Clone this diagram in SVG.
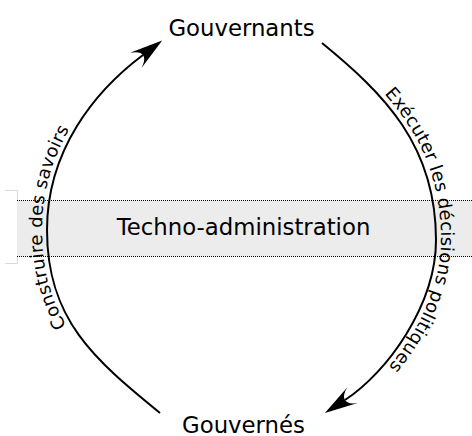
<svg xmlns="http://www.w3.org/2000/svg" xmlns:xlink="http://www.w3.org/1999/xlink" width="472" height="436" viewBox="0 0 472 436">
  <style>
    .lbl { font-family: "DejaVu Sans", "Liberation Sans", sans-serif; fill: #000; }
    .node { font-size: 22.8px; text-anchor: middle; }
    .edge-lbl { font-size: 18px; }
    .arc { fill: none; stroke: #000; stroke-width: 2; marker-end: url(#arrow); }
    .dots { fill: none; stroke: #000; stroke-width: 1; stroke-dasharray: 1 1; }
  </style>
  <defs>
    <marker id="arrow" markerUnits="userSpaceOnUse" orient="auto" refX="0" refY="0" markerWidth="40" markerHeight="30" overflow="visible">
      <path d="M24,0 L-9,-9.5 C3,-4 3,4 -9,9.5 Z" fill="#000"/>
    </marker>
  </defs>

  <g id="band">
    <polyline points="5,190.5 17.5,190.5 17.5,263.5 5,263.5" fill="none" stroke="#d9d9d9" stroke-width="1"/>
    <rect x="17" y="200.5" width="455" height="56" fill="#ececec"/>
    <line class="dots" x1="17" y1="200.5" x2="472" y2="200.5"/>
    <line class="dots" x1="17" y1="256.5" x2="472" y2="256.5"/>
    <text class="lbl node" x="243.5" y="235">Techno-administration</text>
  </g>

  <g id="gouvernants">
    <text class="lbl node" x="241.5" y="36">Gouvernants</text>
  </g>

  <g id="gouvernes">
    <text class="lbl node" x="243.5" y="432.5">Gouvernés</text>
  </g>

  <g id="connectors">
    <path id="arcLeft" class="arc" d="M160,413 C94.5,359.5 47,320 47,230 C47,150 95,91 143,55"/>
    <path id="arcRight" class="arc" d="M322,43 C383.6,93.4 436,145 436,240 C436,305 386.9,372.75 345,400"/>
    <text class="lbl edge-lbl" dy="-5"><textPath xlink:href="#arcLeft" href="#arcLeft" startOffset="52.7%" text-anchor="middle">Construire des savoirs</textPath></text>
    <text class="lbl edge-lbl" dy="-5"><textPath xlink:href="#arcRight" href="#arcRight" startOffset="53%" text-anchor="middle">Exécuter les décisions politiques</textPath></text>
  </g>
</svg>
